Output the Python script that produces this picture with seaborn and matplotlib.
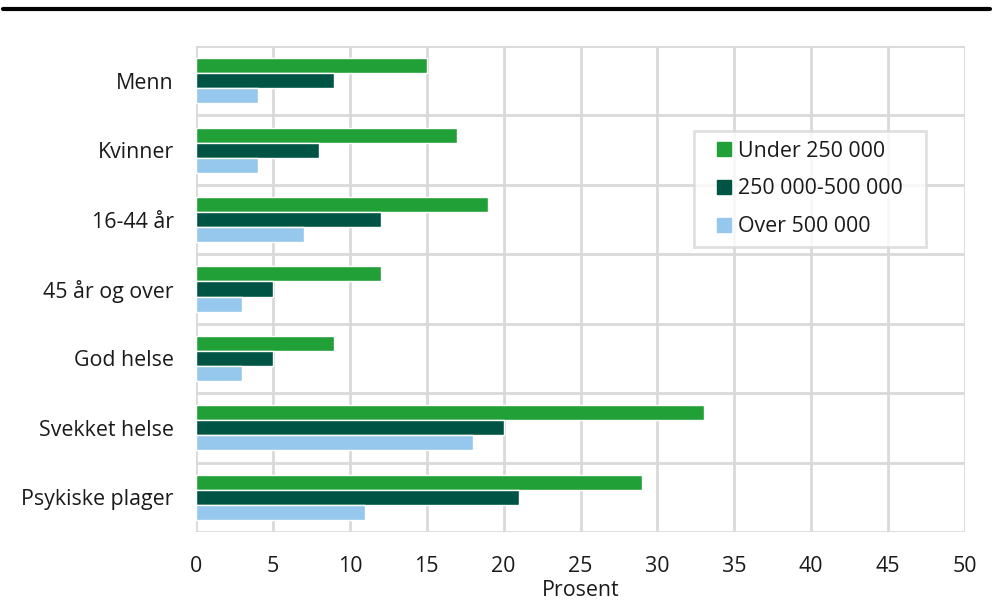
import matplotlib
matplotlib.use("Agg")
import matplotlib.pyplot as plt
from matplotlib.lines import Line2D
import seaborn as sns
import pandas as pd

categories = ["Menn", "Kvinner", "16-44 år", "45 år og over", "God helse", "Svekket helse", "Psykiske plager"]
series_names = ["Under 250 000", "250 000-500 000", "Over 500 000"]
under_250 = [15, 17, 19, 12, 9, 33, 29]
mid_250_500 = [9, 8, 12, 5, 5, 20, 21]
over_500 = [4, 4, 7, 3, 3, 18, 11]
colors = ["#21a038", "#005443", "#95c8ec"]
xticks = [0, 5, 10, 15, 20, 25, 30, 35, 40, 45, 50]

rows = []
for name, vals in zip(series_names, [under_250, mid_250_500, over_500]):
    for c, v in zip(categories, vals):
        rows.append({"Kategori": c, "Gruppe": name, "Prosent": v})
df = pd.DataFrame(rows)

sns.set_theme(style="white")
plt.rcParams["font.family"] = ["Open Sans", "DejaVu Sans"]
FS = 15.4

fig = plt.figure(figsize=(9.93, 6.03), dpi=100)
ax = fig.add_axes([196/993, 1 - 532/603, (965-196)/993, (532-46)/603])

sns.barplot(data=df, y="Kategori", x="Prosent", hue="Gruppe", order=categories,
            hue_order=series_names, palette=colors, orient="h", width=0.65,
            saturation=1, ax=ax, legend=False)

ax.set_xlim(0, 50)
ax.set_ylim(len(categories) - 0.5, -0.5)
ax.set_xticks(xticks)
ax.set_xticklabels([str(t) for t in xticks], fontsize=FS)
ax.set_yticks(range(len(categories)))
ax.set_yticklabels(categories, fontsize=FS)
ax.set_yticks([i - 0.5 for i in range(len(categories) + 1)], minor=True)
ax.tick_params(axis="y", which="both", length=0, pad=16, colors="#1a1a1a")
ax.tick_params(axis="x", which="both", length=0, pad=17, colors="#1a1a1a")
ax.grid(True, axis="x", color="#d9d9d9", linewidth=2)
ax.grid(True, axis="y", which="minor", color="#d9d9d9", linewidth=2)
ax.grid(False, axis="y", which="major")
ax.set_axisbelow(True)
for s in ax.spines.values():
    s.set_visible(False)
ax.set_ylabel("")
ax.set_xlabel("Prosent", fontsize=FS, color="#1a1a1a", labelpad=2.5)

handles = [Line2D([], [], marker="s", linestyle="", markersize=10, color=c) for c in colors]
x0 = (694 - 196) / 769
y1 = 1 - (131 - 46) / 486
w = (926 - 694) / 769
leg = ax.legend(handles, series_names, loc="upper left",
                bbox_to_anchor=(x0, y1 - 0.3, w, 0.3), mode="expand",
                frameon=True, fontsize=FS, handlelength=1.95, handletextpad=-0.35,
                labelspacing=0.78, borderpad=0.45, borderaxespad=0,
                fancybox=False)
leg.get_frame().set_edgecolor("#d9d9d9")
leg.get_frame().set_linewidth(2)
for t in leg.get_texts():
    t.set_color("#1a1a1a")

fig.add_artist(Line2D([3/993, 990/993], [1 - 9/603, 1 - 9/603], color="black", linewidth=3))

fig.savefig("out.png", dpi=100)
